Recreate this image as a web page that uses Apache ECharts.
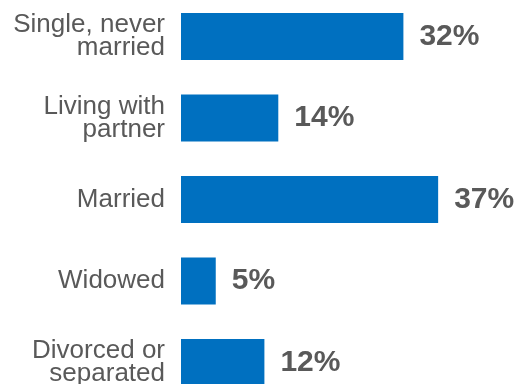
<!DOCTYPE html>
<html>
<head>
<meta charset="utf-8">
<style>
  html, body { margin: 0; padding: 0; background: #ffffff; }
  #chart { width: 522px; height: 384px; }
</style>
<script src="https://cdn.jsdelivr.net/npm/echarts@6/dist/echarts.min.js"></script>
</head>
<body>
<div id="chart"></div>
<script>
// Marital status shares (percent)
const categories = [
  'Single, never\nmarried',
  'Living with\npartner',
  'Married',
  'Widowed',
  'Divorced or\nseparated'
];
const shares = [32, 14, 37, 5, 12];

const textColor = '#595959';
const barColor = '#0070C0';

const chart = echarts.init(document.getElementById('chart'), null, { renderer: 'canvas' });
chart.setOption({
  animation: false,
  grid: {
    left: 181, top: -4.25, width: 278, height: 407.5,
    containLabel: false,
    outerBoundsMode: 'none'
  },
  xAxis: {
    type: 'value',
    min: 0,
    max: 40,
    show: false
  },
  yAxis: {
    type: 'category',
    data: categories,
    inverse: true,
    axisLine: { show: false },
    axisTick: { show: false },
    splitLine: { show: false },
    axisLabel: {
      margin: 16,
      color: textColor,
      fontFamily: 'Liberation Sans, Arial, sans-serif',
      fontSize: 26,
      lineHeight: 23,
      align: 'right',
      padding: [0, 0, 8, 0]
    }
  },
  series: [{
    type: 'bar',
    data: shares,
    barWidth: 47,
    itemStyle: { color: barColor },
    label: {
      show: true,
      position: 'right',
      distance: 16,
      formatter: '{c}%',
      color: textColor,
      fontFamily: 'Liberation Sans, Arial, sans-serif',
      fontWeight: 'bold',
      fontSize: 30
    }
  }]
});
</script>
</body>
</html>
